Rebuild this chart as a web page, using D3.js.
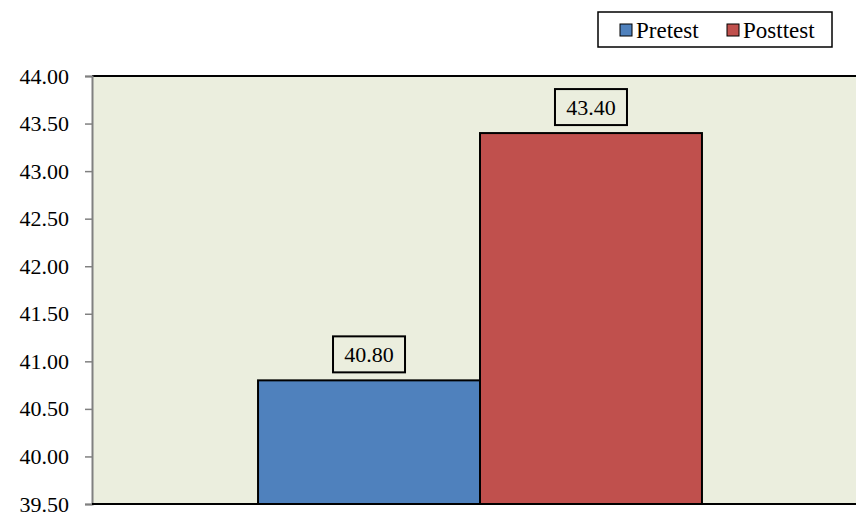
<!DOCTYPE html>
<html>
<head>
<meta charset="utf-8">
<script src="https://cdn.jsdelivr.net/npm/d3@7"></script>
<style>
  html, body { margin: 0; padding: 0; background: #ffffff; }
  svg { display: block; }
  text { font-family: "Liberation Serif", Tinos, "DejaVu Serif", serif; fill: #000; }
</style>
</head>
<body>
<svg id="chart" width="856" height="517"></svg>
<script>
// Chart data
const categories = ["Score"];
const seriesNames = ["Pretest", "Posttest"];
const seriesValues = [40.80, 43.40];
const seriesColors = ["#4F81BD", "#C0504D"];
const yTicks = [39.5, 40.0, 40.5, 41.0, 41.5, 42.0, 42.5, 43.0, 43.5, 44.0];

const FONT = "'Liberation Serif', Tinos, 'DejaVu Serif', serif";
const svg = d3.select("#chart");
const plot = { left: 92, top: 76, right: 868, bottom: 504 };

const y = d3.scaleLinear().domain([39.5, 44.0]).range([plot.bottom, plot.top]);
const x0 = d3.scaleBand().domain(categories).range([plot.left, plot.right])
  .paddingInner(0).paddingOuter(0.374);
const x1 = d3.scaleBand().domain(seriesNames).range([0, x0.bandwidth()]).padding(0);

// Plot background
svg.append("rect")
  .attr("x", plot.left).attr("y", plot.top)
  .attr("width", plot.right - plot.left).attr("height", plot.bottom - plot.top)
  .attr("fill", "#EBEEDE");

// Top border of plot area
svg.append("line")
  .attr("x1", plot.left).attr("x2", plot.right)
  .attr("y1", plot.top).attr("y2", plot.top)
  .attr("stroke", "#000").attr("stroke-width", 2);

// Y axis
const yAxis = d3.axisLeft(y).tickValues(yTicks).tickFormat(d3.format(".2f"))
  .tickSize(7).tickPadding(16);
const gy = svg.append("g").attr("transform", `translate(${plot.left},0)`).call(yAxis)
  .attr("font-family", FONT).attr("font-size", 22);
gy.select(".domain").attr("stroke", "#808080").attr("stroke-width", 2);
gy.selectAll(".tick line").attr("stroke", "#808080").attr("stroke-width", 1.5);
gy.selectAll(".tick text").attr("fill", "#000");

// Bars
const barData = seriesNames.map((s, i) => ({ series: s, value: seriesValues[i], color: seriesColors[i] }));
const cat = categories[0];
svg.selectAll("rect.bar").data(barData).enter().append("rect")
  .attr("class", "bar")
  .attr("x", d => x0(cat) + x1(d.series))
  .attr("y", d => y(d.value))
  .attr("width", x1.bandwidth())
  .attr("height", d => y(y.domain()[0]) - y(d.value))
  .attr("fill", d => d.color)
  .attr("stroke", "#000").attr("stroke-width", 2);

// Bottom axis line
svg.append("line")
  .attr("x1", plot.left).attr("x2", plot.right)
  .attr("y1", plot.bottom).attr("y2", plot.bottom)
  .attr("stroke", "#000").attr("stroke-width", 2);

// Value labels with boxes
const labels = svg.selectAll("g.vlabel").data(barData).enter().append("g").attr("class", "vlabel")
  .attr("transform", d => `translate(${x0(cat) + x1(d.series) + x1.bandwidth() / 2},${y(d.value) - 26})`);
labels.append("rect")
  .attr("x", -36).attr("y", -18).attr("width", 72).attr("height", 36)
  .attr("fill", "#EBEEDE").attr("stroke", "#000").attr("stroke-width", 2);
labels.append("text")
  .attr("text-anchor", "middle").attr("dy", "0.35em")
  .attr("font-family", FONT).attr("font-size", 22)
  .text(d => d3.format(".2f")(d.value));

// Legend
const legend = svg.append("g").attr("transform", "translate(598,12)");
legend.append("rect").attr("width", 234).attr("height", 35)
  .attr("fill", "#fff").attr("stroke", "#000").attr("stroke-width", 1.5);
const legendOffsets = [22, 129];
seriesNames.forEach((s, i) => {
  const g = legend.append("g").attr("transform", `translate(${legendOffsets[i]},0)`);
  g.append("rect").attr("x", 0).attr("y", 12).attr("width", 12).attr("height", 12)
    .attr("fill", seriesColors[i]).attr("stroke", "#000").attr("stroke-width", 1);
  g.append("text").attr("x", 16).attr("y", 26)
    .attr("font-family", FONT).attr("font-size", 23).text(s);
});
</script>
</body>
</html>
